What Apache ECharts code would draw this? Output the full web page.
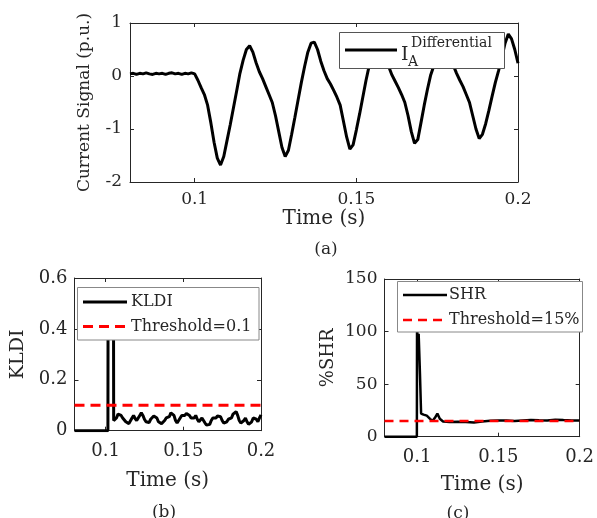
<!DOCTYPE html>
<html>
<head>
<meta charset="utf-8">
<script src="https://cdn.jsdelivr.net/npm/echarts@6/dist/echarts.min.js"></script>
<style>html,body{margin:0;padding:0;background:#fff;}#c{width:597px;height:518px;}</style>
</head>
<body>
<div id="c"></div>
<script>
// ---- data ----
const timeStart = 0.08, timeStep = 0.001;
const xTicks = [0.1, 0.15, 0.2];
// (a) differential current, phase A, sampled every 1 ms from 0.080 s to 0.200 s
const currentValues = [
  0.04, 0.05, 0.03, 0.05, 0.04, 0.06, 0.04, 0.03, 0.05, 0.04,
  0.05, 0.03, 0.05, 0.06, 0.04, 0.05, 0.03, 0.05, 0.04, 0.06,
  0.04, -0.08, -0.22, -0.35, -0.55, -0.88, -1.25, -1.55, -1.68, -1.52,
  -1.22, -0.92, -0.6, -0.28, 0.05, 0.3, 0.5, 0.57, 0.45, 0.25,
  0.08, -0.05, -0.2, -0.35, -0.5, -0.75, -1.05, -1.35, -1.52, -1.4,
  -1.1, -0.78, -0.45, -0.12, 0.18, 0.45, 0.62, 0.64, 0.5, 0.28,
  0.1, -0.05, -0.15, -0.27, -0.4, -0.55, -0.85, -1.15, -1.38, -1.3,
  -1.02, -0.72, -0.4, -0.08, 0.2, 0.42, 0.58, 0.62, 0.5, 0.32,
  0.18, 0.02, -0.1, -0.22, -0.35, -0.5, -0.75, -1.05, -1.27, -1.2,
  -0.88, -0.55, -0.25, 0.02, 0.2, 0.4, 0.55, 0.62, 0.52, 0.35,
  0.2, 0.05, -0.08, -0.2, -0.35, -0.5, -0.75, -1.0, -1.18, -1.1,
  -0.9, -0.65, -0.38, -0.12, 0.1, 0.35, 0.62, 0.79, 0.7, 0.5,
  0.24
];
// (b) KLDI: step part then 1 ms samples from 0.106 s
const kldiStepTime = [0.08, 0.1015, 0.1016, 0.1051, 0.1052];
const kldiStepValues = [0, 0, 0.5, 0.5, 0.04];
const kldiStart = 0.106;
const kldiValues = [
  0.045, 0.05, 0.065, 0.072, 0.06, 0.05, 0.045, 0.035, 0.03, 0.028,
  0.035, 0.05, 0.06, 0.048, 0.04, 0.045, 0.06, 0.07, 0.06, 0.045,
  0.035, 0.03, 0.032, 0.045, 0.05, 0.058, 0.062, 0.05, 0.035, 0.03,
  0.028, 0.03, 0.04, 0.05, 0.045, 0.055, 0.07, 0.075, 0.06, 0.04,
  0.03, 0.035, 0.05, 0.06, 0.055, 0.06, 0.068, 0.07, 0.06, 0.05,
  0.045, 0.05, 0.06, 0.045, 0.035, 0.04, 0.05, 0.045, 0.03, 0.022,
  0.022, 0.025, 0.04, 0.05, 0.045, 0.05, 0.058, 0.062, 0.055, 0.04,
  0.03, 0.028, 0.035, 0.045, 0.04, 0.05, 0.065, 0.072, 0.075, 0.06,
  0.04, 0.03, 0.028, 0.04, 0.05, 0.035, 0.025, 0.025, 0.035, 0.05,
  0.055, 0.045, 0.035, 0.05, 0.062
];
const kldiThreshold = 0.1;
// (c) SHR (%)
const shrTime = [0.08, 0.0999, 0.1, 0.1005, 0.101, 0.1018, 0.1025, 0.104, 0.106, 0.108,
  0.1095, 0.111, 0.1125, 0.114, 0.116, 0.12, 0.125, 0.13, 0.135, 0.14,
  0.145, 0.15, 0.155, 0.16, 0.165, 0.17, 0.175, 0.18, 0.185, 0.19, 0.195, 0.2];
const shrValues = [0, 0, 105, 88, 98, 60, 22, 21, 20, 17,
  15, 18, 22, 17, 14.5, 14, 14.2, 14, 13.6, 14.5,
  15.2, 15.5, 15.3, 15, 15.4, 15.8, 15.6, 15.5, 16.2, 15.8, 15.5, 15.4];
const shrThreshold = 15;

// ---- build ----
const currentData = currentValues.map((v, i) => [+(timeStart + i * timeStep).toFixed(4), v]);
const kldiData = kldiStepTime.map((t, i) => [t, kldiStepValues[i]])
  .concat(kldiValues.map((v, i) => [+(kldiStart + i * timeStep).toFixed(4), v]));
const shrData = shrTime.map((t, i) => [t, shrValues[i]]);

const FONT = 'DejaVu Serif';
const TXT = '#262626';
const AX = '#262626';

function xAxes(gi, labelSize, margin, nameGap, nameSize) {
  return [{
    type: 'value', gridIndex: gi, position: 'bottom', min: 0.08, max: 0.2,
    name: 'Time (s)', nameLocation: 'middle', nameGap: nameGap,
    nameTextStyle: {fontFamily: FONT, fontSize: nameSize, color: TXT},
    axisLine: {show: true, onZero: false, lineStyle: {color: AX, width: 1}},
    axisTick: {show: true, inside: true, length: 4, customValues: xTicks, lineStyle: {color: AX}},
    axisLabel: {show: true, customValues: xTicks, margin: margin, fontFamily: FONT, fontSize: labelSize, color: TXT,
      showMinLabel: true, showMaxLabel: true},
    splitLine: {show: false}
  }, {
    type: 'value', gridIndex: gi, position: 'top', min: 0.08, max: 0.2,
    axisLine: {show: true, onZero: false, lineStyle: {color: AX, width: 1}},
    axisTick: {show: true, inside: true, length: 4, customValues: xTicks, lineStyle: {color: AX}},
    axisLabel: {show: false}, splitLine: {show: false}
  }];
}
function yAxes(gi, min, max, interval, name, labelSize, margin, nameGap, nameSize) {
  return [{
    type: 'value', gridIndex: gi, position: 'left', min: min, max: max, interval: interval,
    name: name, nameLocation: 'middle', nameGap: nameGap,
    nameTextStyle: {fontFamily: FONT, fontSize: nameSize, color: TXT},
    axisLine: {show: true, onZero: false, lineStyle: {color: AX, width: 1}},
    axisTick: {show: true, inside: true, length: 4, lineStyle: {color: AX}},
    axisLabel: {show: true, margin: margin, fontFamily: FONT, fontSize: labelSize, color: TXT},
    splitLine: {show: false}
  }, {
    type: 'value', gridIndex: gi, position: 'right', min: min, max: max, interval: interval,
    axisLine: {show: true, onZero: false, lineStyle: {color: AX, width: 1}},
    axisTick: {show: true, inside: true, length: 4, lineStyle: {color: AX}},
    axisLabel: {show: false}, splitLine: {show: false}
  }];
}

function legendBox(x, y, w, h, stroke) {
  return {type: 'rect', z: 100, shape: {x: x, y: y, width: w, height: h},
    style: {fill: '#fff', stroke: stroke, lineWidth: 1}};
}
function legendLine(x1, x2, y, color, width, dash) {
  return {type: 'line', z: 101, shape: {x1: x1, y1: y, x2: x2, y2: y},
    style: {stroke: color, lineWidth: width, lineDash: dash || null}};
}
function txt(x, y, text, size, align) {
  return {type: 'text', z: 101, x: x, y: y,
    style: {text: text, fontFamily: FONT, fontSize: size, fill: TXT, align: align || 'left', verticalAlign: 'middle'}};
}

const option = {
  backgroundColor: '#fff',
  animation: false,
  grid: [
    {left: 130, top: 23, width: 388, height: 159},
    {left: 74.5, top: 278, width: 186.5, height: 152.7},
    {left: 384.5, top: 279, width: 198, height: 157.7}
  ],
  xAxis: [].concat(xAxes(0, 17, 9, 25, 20), xAxes(1, 18, 12, 40, 20), xAxes(2, 18, 12, 38, 20)),
  yAxis: [].concat(
    yAxes(0, -2, 1, 1, 'Current Signal (p.u.)', 17, 8, 37, 17),
    yAxes(1, 0, 0.6, 0.2, 'KLDI', 18, 7, 47, 19),
    yAxes(2, 0, 150, 50, '%SHR', 17, 7, 47, 18)
  ),
  series: [
    {type: 'line', xAxisIndex: 0, yAxisIndex: 0, data: currentData, showSymbol: false, symbol: 'none',
      lineStyle: {color: '#000', width: 3}, clip: true},
    {type: 'line', xAxisIndex: 2, yAxisIndex: 2, data: kldiData, showSymbol: false, symbol: 'none',
      lineStyle: {color: '#000', width: 3}, clip: true},
    {type: 'line', xAxisIndex: 2, yAxisIndex: 2, data: [[0.08, kldiThreshold], [0.2, kldiThreshold]], showSymbol: false, symbol: 'none',
      lineStyle: {color: '#ff0000', width: 3, type: [10, 6]}, clip: true},
    {type: 'line', xAxisIndex: 4, yAxisIndex: 4, data: shrData, showSymbol: false, symbol: 'none',
      lineStyle: {color: '#000', width: 2.5}, clip: true},
    {type: 'line', xAxisIndex: 4, yAxisIndex: 4, data: [[0.08, shrThreshold], [0.2, shrThreshold]], showSymbol: false, symbol: 'none',
      lineStyle: {color: '#ff0000', width: 2.5, type: [9, 6]}, clip: true}
  ],
  graphic: [
    // legend (a)
    legendBox(339.5, 32.5, 165, 36, '#555'),
    legendLine(345, 397, 50, '#000', 3),
    txt(401, 55, 'I', 19),
    txt(411, 43, 'Differential', 14),
    txt(408, 62, 'A', 14),
    // legend (b)
    legendBox(77.5, 287.5, 181.5, 52.5, '#888'),
    legendLine(83, 127, 302, '#000', 3),
    txt(131, 302, 'KLDI', 16),
    legendLine(83, 127, 326.5, '#ff0000', 3, [10, 6]),
    txt(131, 326.5, 'Threshold=0.1', 16),
    // legend (c)
    legendBox(397.5, 281.5, 185, 50.5, '#888'),
    legendLine(403, 447, 295, '#000', 2.5),
    txt(449, 295, 'SHR', 16),
    legendLine(403, 447, 320, '#ff0000', 2.5, [9, 6]),
    txt(449, 320, 'Threshold=15%', 16),
    // captions
    txt(326, 250, '(a)', 17, 'center'),
    txt(164, 513, '(b)', 17, 'center'),
    txt(458, 514, '(c)', 17, 'center')
  ]
};
const chart = echarts.init(document.getElementById('c'), null, {renderer: 'canvas'});
chart.setOption(option);
</script>
</body>
</html>
